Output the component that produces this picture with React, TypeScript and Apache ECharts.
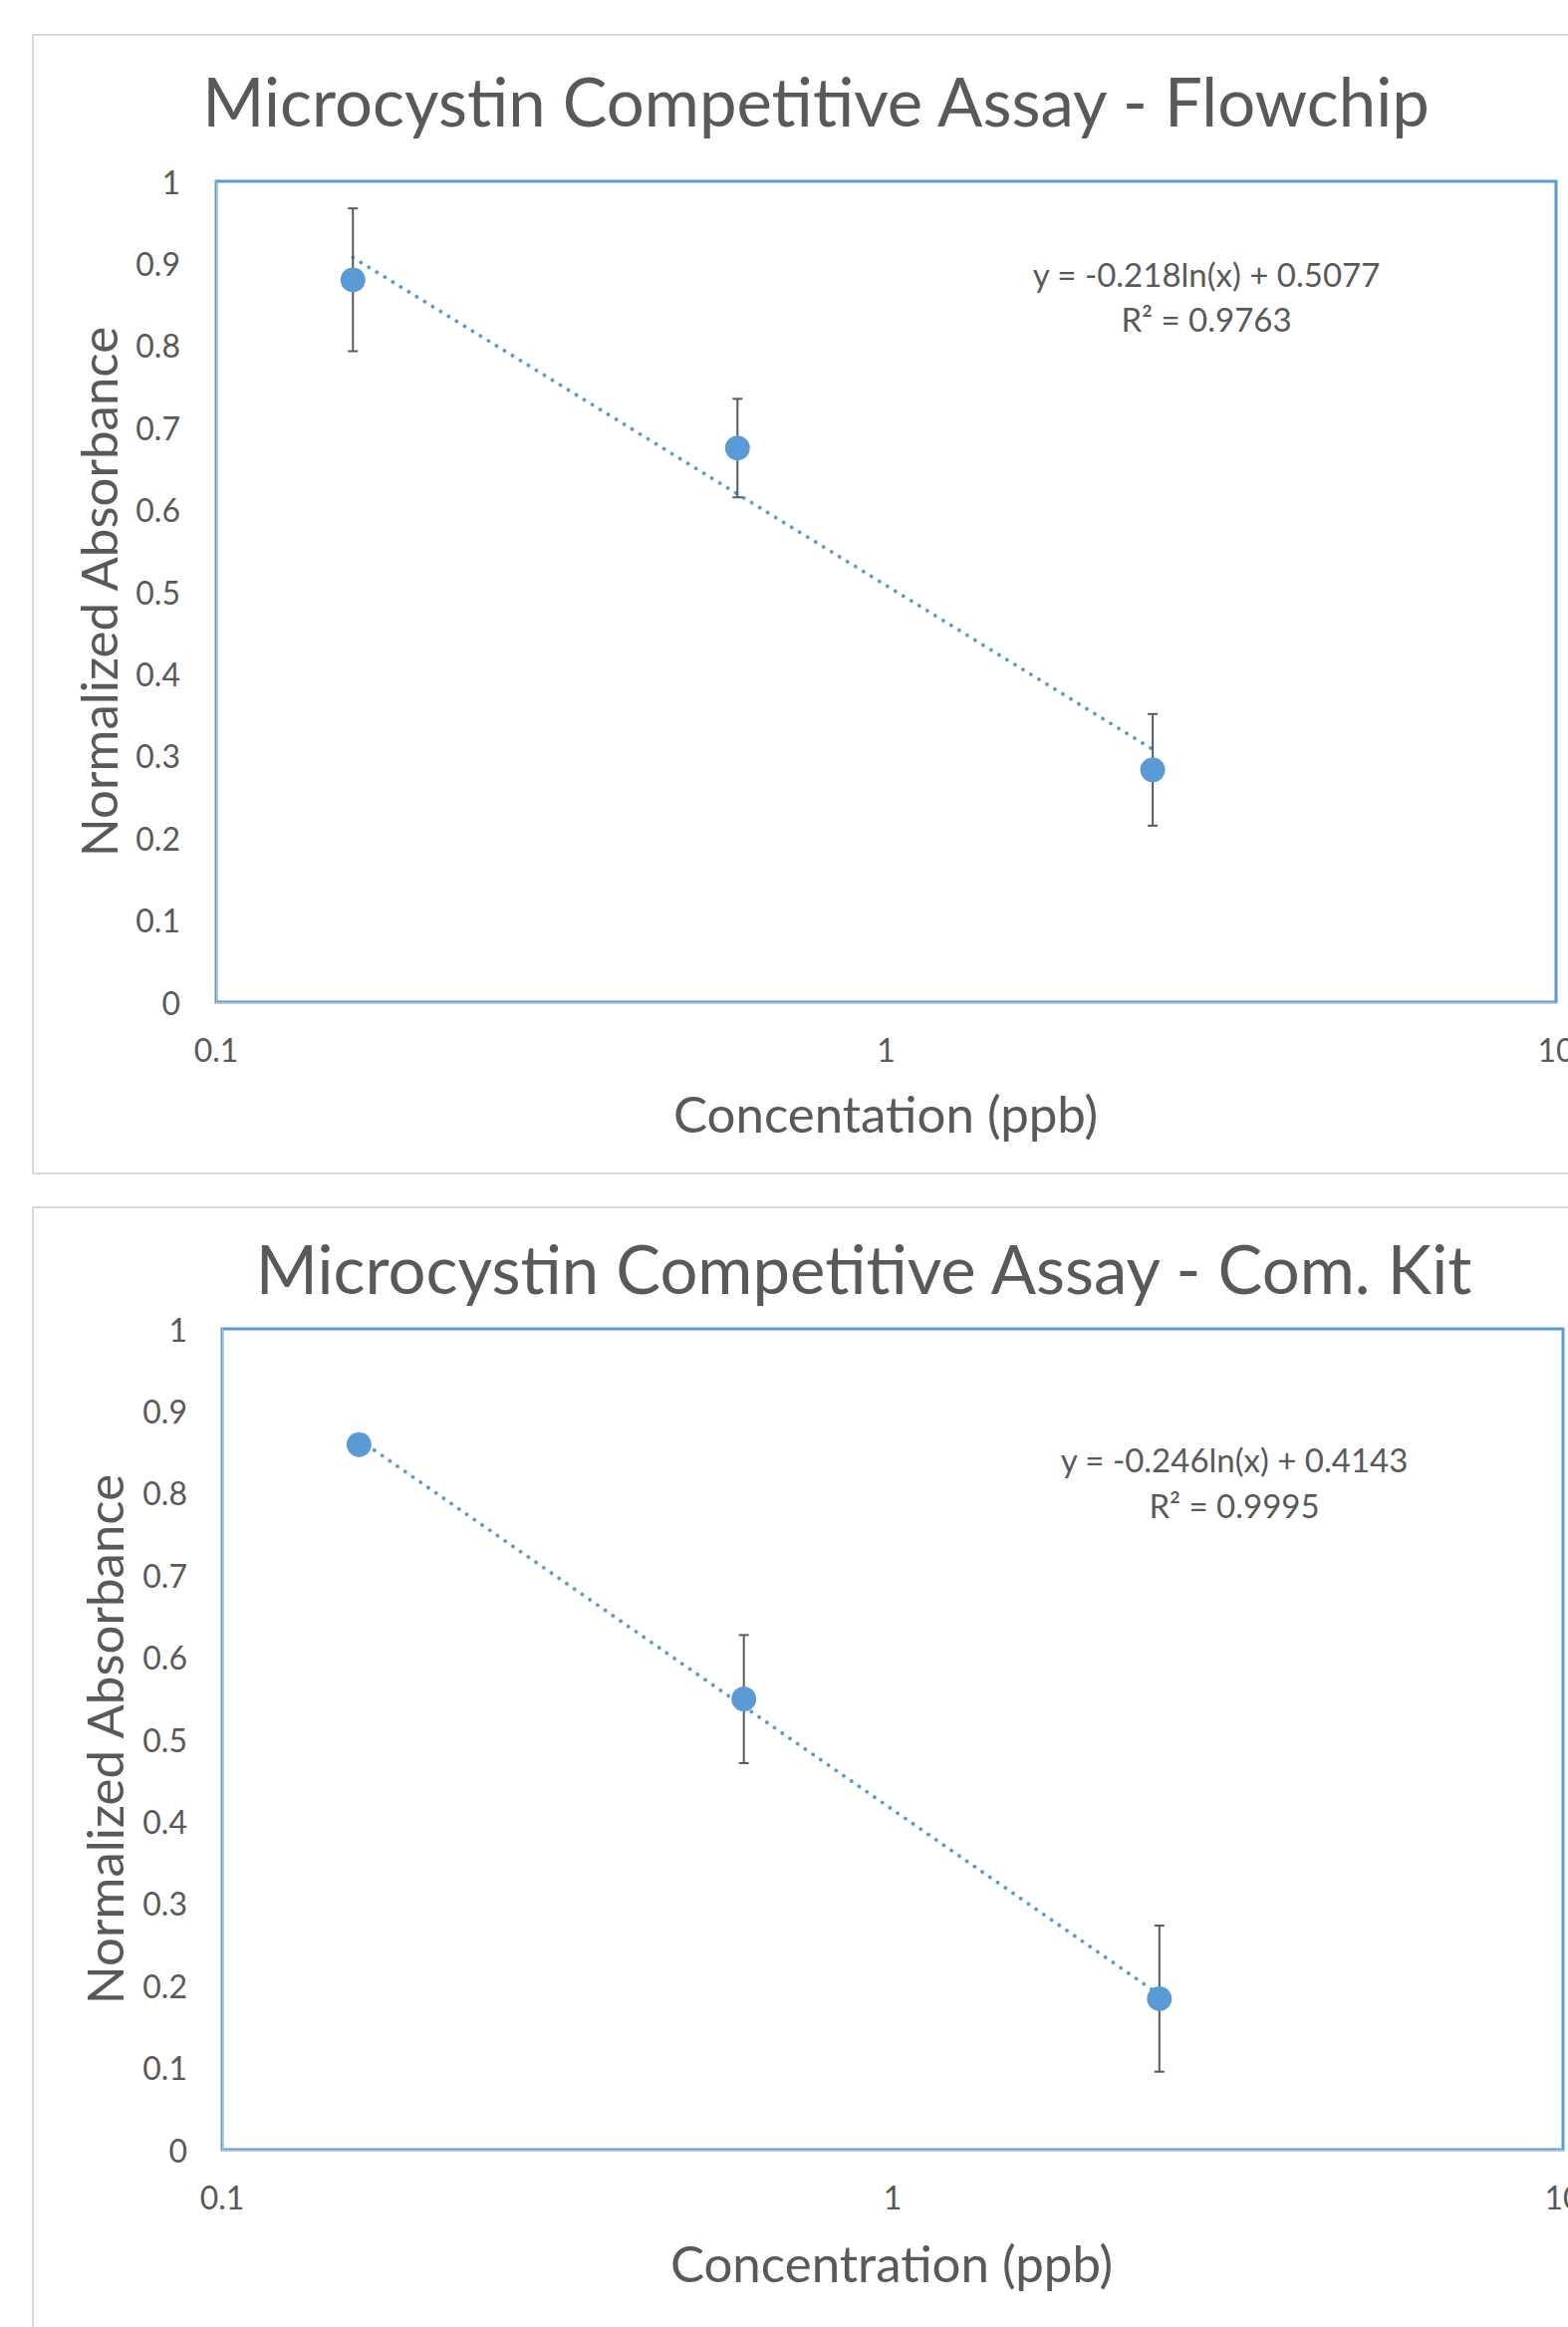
import React, { useEffect, useRef } from "react";
import * as echarts from "echarts";

// ---- data ----
const concentrations = [0.16, 0.6, 2.5];
const flowchipAbs = [0.88, 0.675, 0.283];
const flowchipErr = [0.087, 0.06, 0.068];
const kitAbs = [0.859, 0.549, 0.184];
const kitErr = [0.0, 0.078, 0.089];
// logarithmic trendline coefficients shown on the charts: y = a*ln(x) + b
const flowchipFit = [-0.218, 0.5077];
const kitFit = [-0.246, 0.4143];
const flowchipEq = ["y = -0.218ln(x) + 0.5077", "R² = 0.9763"];
const kitEq = ["y = -0.246ln(x) + 0.4143", "R² = 0.9995"];
const titles = [
  "Microcystin Competitive Assay - Flowchip",
  "Microcystin Competitive Assay - Com. Kit",
];
const xTitles = ["Concentation (ppb)", "Concentration (ppb)"];
const yTitle = "Normalized Absorbance";

const FONT = "Lato, 'Open Sans', sans-serif";
const TXT = "#595959";
const BLUE = "#5B9BD5";

function trend(fit: number[]) {
  const x0 = concentrations[0];
  const x1 = concentrations[concentrations.length - 1];
  return [
    [x0, fit[0] * Math.log(x0) + fit[1]],
    [x1, fit[0] * Math.log(x1) + fit[1]],
  ];
}

function errRender(params: any, api: any) {
  const x = api.value(0);
  const y = api.value(1);
  const e = api.value(2);
  if (!(e > 0)) return { type: "group", children: [] };
  const top = api.coord([x, y + e]);
  const bot = api.coord([x, y - e]);
  const style = { stroke: TXT, lineWidth: 2 };
  const hw = 5;
  return {
    type: "group",
    children: [
      { type: "line", shape: { x1: top[0], y1: top[1], x2: bot[0], y2: bot[1] }, style },
      { type: "line", shape: { x1: top[0] - hw, y1: top[1], x2: top[0] + hw, y2: top[1] }, style },
      { type: "line", shape: { x1: bot[0] - hw, y1: bot[1], x2: bot[0] + hw, y2: bot[1] }, style },
    ],
  };
}

export default function App() {
  const ref = useRef<HTMLDivElement>(null);
  useEffect(() => {
    if (!ref.current) return;
    const chart = echarts.init(ref.current, undefined, { renderer: "svg" });
    const grids = [
      { left: 217, top: 182, width: 1345, height: 824 },
      { left: 223, top: 1334, width: 1346, height: 824 },
    ];
    const xAxis = grids.map((_, i) => ({
      type: "log",
      logBase: 10,
      gridIndex: i,
      min: 0.1,
      max: 10,
      axisLine: { show: true, lineStyle: { color: "#BFBFBF", width: 1 } },
      axisTick: { show: false },
      splitLine: { show: false },
      axisLabel: { fontSize: 32, color: TXT, fontFamily: FONT, margin: 31 },
    }));
    const yAxis = grids.map((_, i) => ({
      type: "value",
      gridIndex: i,
      min: 0,
      max: 1,
      interval: 0.1,
      axisLine: { show: true, lineStyle: { color: "#BFBFBF", width: 1 } },
      axisTick: { show: false },
      splitLine: { show: false },
      axisLabel: { fontSize: 32, color: TXT, fontFamily: FONT, margin: i === 0 ? 36 : 35 },
    }));
    const sets = [
      { abs: flowchipAbs, err: flowchipErr, fit: flowchipFit },
      { abs: kitAbs, err: kitErr, fit: kitFit },
    ];
    const series: any[] = [];
    sets.forEach((s, i) => {
      series.push({
        type: "line",
        xAxisIndex: i,
        yAxisIndex: i,
        data: trend(s.fit),
        symbol: "none",
        z: 2,
        lineStyle: { color: BLUE, width: 3.8, type: [0.1, 9.3], cap: "round", opacity: 1 },
      });
      series.push({
        type: "custom",
        xAxisIndex: i,
        yAxisIndex: i,
        renderItem: errRender,
        data: concentrations.map((c, k) => [c, s.abs[k], s.err[k]]),
        z: 3,
      });
      series.push({
        type: "scatter",
        xAxisIndex: i,
        yAxisIndex: i,
        symbolSize: 25,
        itemStyle: { color: BLUE, opacity: 1 },
        data: concentrations.map((c, k) => [c, s.abs[k]]),
        z: 4,
      });
    });
    const txt = (text: string, x: number, y: number, size: number, rot = 0) => ({
      type: "text",
      x,
      y,
      rotation: rot,
      style: {
        text,
        fill: TXT,
        fontSize: size,
        fontFamily: FONT,
        textAlign: "center",
        textVerticalAlign: "middle",
      },
      z: 10,
    });
    chart.setOption({
      animation: false,
      backgroundColor: "#ffffff",
      grid: grids.map((g) => ({
        ...g,
        show: true,
        borderColor: BLUE,
        borderWidth: 3,
        backgroundColor: "transparent",
        containLabel: false,
        outerBoundsMode: "none",
      })),
      xAxis,
      yAxis,
      series,
      graphic: [
        { type: "rect", shape: { x: 33, y: 35, width: 1700, height: 1143 }, style: { fill: "none", stroke: "#D9D9D9", lineWidth: 2 }, z: 0 },
        { type: "rect", shape: { x: 33, y: 1212, width: 1700, height: 1300 }, style: { fill: "none", stroke: "#D9D9D9", lineWidth: 2 }, z: 0 },
        txt(titles[0], 819, 101, 67),
        txt(titles[1], 867, 1273, 67),
        txt(yTitle, 98, 594, 51, Math.PI / 2),
        txt(yTitle, 104, 1746, 51, Math.PI / 2),
        txt(xTitles[0], 889, 1117, 51),
        txt(xTitles[1], 895, 2271, 51),
        txt(flowchipEq[0], 1211, 275, 33),
        txt(flowchipEq[1], 1211, 320, 33),
        txt(kitEq[0], 1239, 1465, 33),
        txt(kitEq[1], 1239, 1511, 33),
      ],
    });
    return () => chart.dispose();
  }, []);
  return (
    <div style={{ position: "fixed", left: 0, top: 0, width: 1574, height: 2336, overflow: "hidden", background: "#fff" }}>
      <div ref={ref} style={{ width: 1574, height: 2336 }} />
    </div>
  );
}
